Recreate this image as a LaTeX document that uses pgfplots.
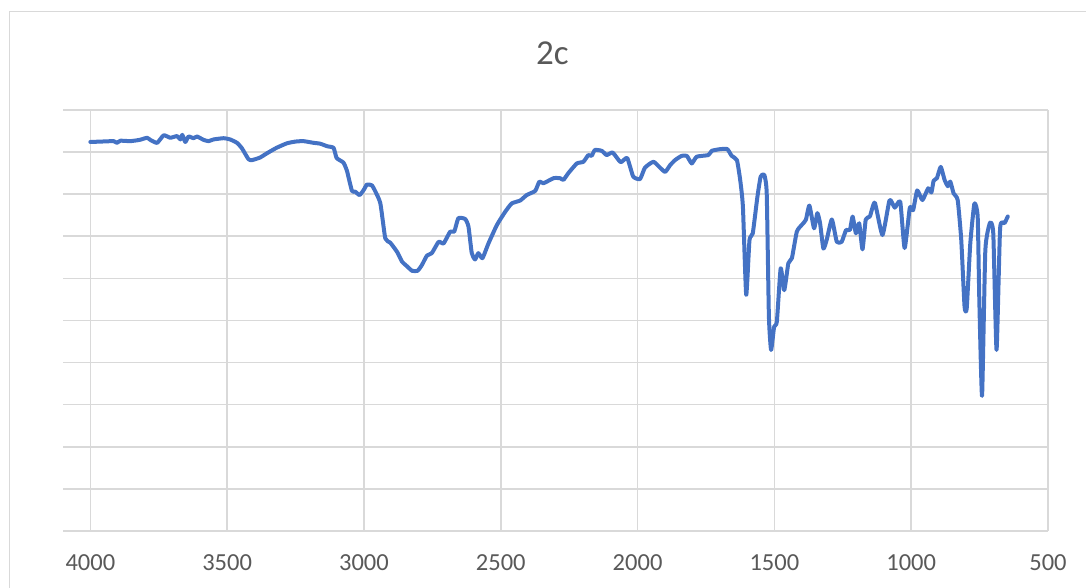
\documentclass[border=0pt]{standalone}
\usepackage{fontspec}
\setmainfont{Carlito}
\usepackage{pgfplots}
\pgfplotsset{compat=1.18}
\definecolor{gridgray}{HTML}{D9D9D9}
\definecolor{textgray}{HTML}{595959}
\definecolor{seriesblue}{HTML}{4472C4}

% IR spectrum: wavenumber (cm^-1) vs. transmittance (%)
\pgfplotstableread{
wn T
4000 92.4
3960 92.5
3915 92.6
3903 92.2
3890 92.7
3854 92.6
3820 92.9
3793 93.4
3781 92.9
3756 92.2
3732 94.0
3708 93.4
3683 93.8
3671 93.0
3664 94.1
3653 92.4
3641 93.7
3623 93.3
3610 93.7
3586 92.9
3568 92.6
3550 93.0
3513 93.3
3489 93.0
3464 92.2
3446 90.9
3422 88.3
3409 88.1
3380 88.7
3355 89.7
3320 91.0
3281 92.1
3250 92.5
3221 92.6
3184 92.2
3160 92.0
3135 91.4
3111 91.0
3100 88.6
3075 87.5
3062 85.5
3044 80.8
3032 80.6
3016 79.8
3001 81.0
2989 82.3
2971 82.1
2958 80.6
2940 77.8
2922 69.5
2904 68.5
2879 66.3
2861 64.0
2843 62.9
2824 61.8
2804 61.8
2788 63.2
2770 65.4
2752 66.0
2727 68.7
2709 68.3
2685 71.1
2670 71.1
2655 74.3
2630 74.1
2618 72.3
2606 66.0
2594 64.5
2582 66.0
2567 64.8
2545 68.3
2514 72.7
2484 75.8
2460 77.8
2429 78.5
2405 79.8
2374 80.8
2359 83.0
2344 82.6
2307 83.8
2283 83.8
2271 83.4
2253 85.0
2222 87.3
2198 87.7
2180 89.3
2168 89.1
2156 90.5
2131 90.3
2113 89.3
2091 89.9
2062 87.6
2038 88.6
2016 84.2
1991 83.6
1973 86.3
1942 87.7
1918 86.3
1899 85.3
1881 86.9
1863 88.1
1839 89.1
1820 89.1
1802 87.3
1784 88.9
1741 89.3
1729 90.3
1698 90.7
1672 90.7
1656 89.1
1637 88.1
1625 83.4
1615 77.0
1603 56.1
1591 69.1
1579 70.7
1562 79.4
1550 84.2
1537 84.6
1528 80.2
1520 50.9
1512 43.0
1501 48.5
1491 49.7
1477 62.4
1464 57.2
1449 63.6
1436 64.8
1418 71.1
1400 72.7
1385 73.9
1372 77.3
1355 71.9
1343 75.5
1333 73.1
1321 67.1
1309 69.1
1290 74.0
1272 68.7
1254 68.7
1238 71.5
1224 71.5
1214 74.7
1202 70.7
1190 73.1
1178 66.9
1166 74.0
1151 74.7
1133 78.0
1105 70.3
1079 78.6
1060 76.8
1040 78.2
1024 67.2
1005 76.8
993 76.2
978 80.9
959 78.6
938 81.4
926 80.4
918 83.2
906 83.8
892 86.5
878 83.4
866 81.9
857 83.0
845 80.2
830 78.6
817 69.1
805 53.3
797 52.9
784 68.3
769 77.8
757 74.7
751 54.9
741 32.1
729 66.7
712 73.2
700 70.7
688 43.0
675 71.9
659 73.1
647 74.7
}\spectrum

\begin{document}
\begin{tikzpicture}[x=1pt,y=1pt]
\path[use as bounding box] (0,0) rectangle (1086,588);
% chart frame
\begin{scope}
\clip (0,0) rectangle (1086,588);
\draw[gridgray, line width=1.5pt] (9.5,576.5) rectangle (1200,-50);
\end{scope}
% title
\node[font=\fontsize{35}{40}\selectfont, text=textgray, anchor=base, inner sep=0pt] at (552.5,523) {2c};
\begin{axis}[
  at={(63pt,57pt)}, anchor=south west,
  width=985pt, height=421pt, scale only axis,
  x dir=reverse,
  xmin=500, xmax=4100, ymin=0, ymax=100,
  xtick={500,1000,...,4000},
  ytick={0,10,...,100}, yticklabels={},
  grid=major,
  major grid style={gridgray, line width=1.6pt},
  axis line style={draw=none},
  major tick style={draw=none},
  xticklabel style={font=\fontsize{24.5}{28}\selectfont, text=textgray, anchor=base, yshift=-40pt},
  /pgf/number format/assume math mode=true,
  /pgf/number format/set thousands separator={},
  clip=false,
]
\addplot[seriesblue, line width=4pt, line join=round, line cap=round, smooth, tension=0.3] table[x=wn, y=T] {\spectrum};
\end{axis}
\end{tikzpicture}
\end{document}
